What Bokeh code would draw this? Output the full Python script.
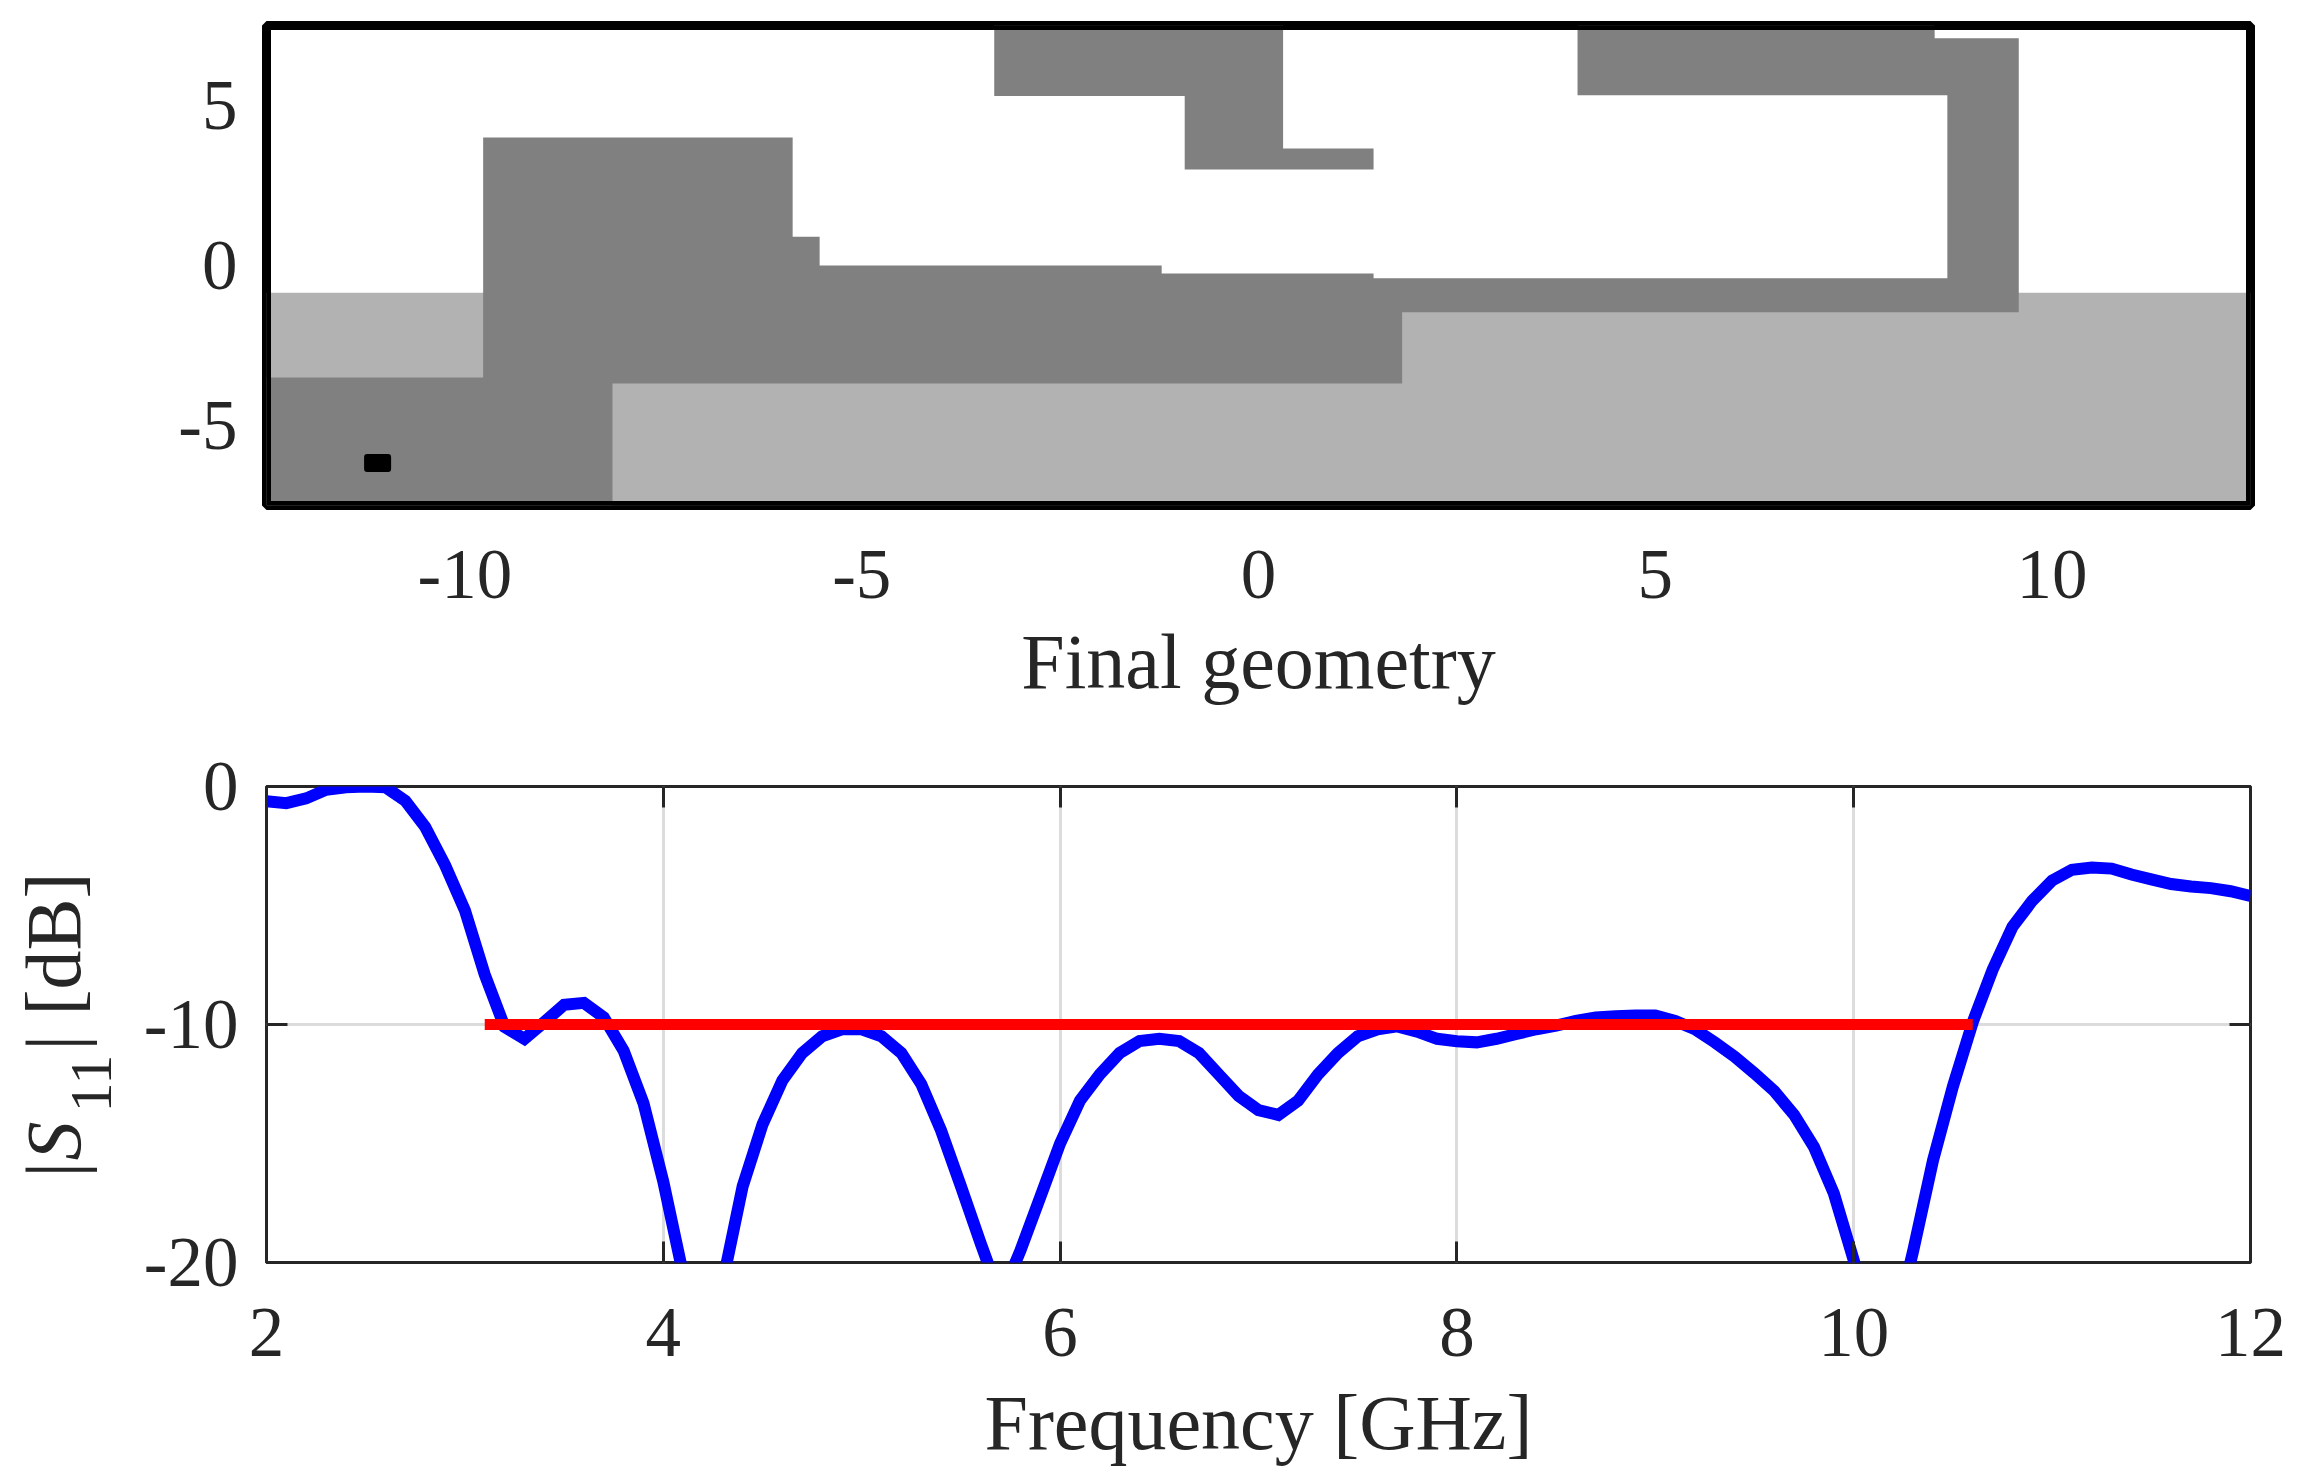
from math import pi
from bokeh.plotting import figure
from bokeh.layouts import column, row
from bokeh.models import LinearAxis, FixedTicker, Range1d
from bokeh.core.properties import value
from bokeh.embed import file_html
from bokeh.resources import INLINE

# ---- geometry panel data
substrate_x = [-12.5, 12.5]
substrate_top = -0.85
substrate_bottom = -7.5
main_patch_x = [-12.5, -9.77, -9.77, -5.87, -5.87, -5.53, -5.53, -1.22, -1.22, 1.45, 1.45, 8.68, 8.68, 4.02, 4.02,
                8.52, 8.52, 9.58, 9.58, 1.81, 1.81, -8.14, -8.14, -12.5]
main_patch_y = [-3.5, -3.5, 4.0, 4.0, 0.9, 0.9, 0.0, 0.0, -0.25, -0.25, -0.4, -0.4, 5.32, 5.32, 7.5,
                7.5, 7.1, 7.1, -1.46, -1.46, -3.69, -3.69, -7.5, -7.5]
stub_patch_x = [-3.33, -3.33, -0.93, -0.93, 1.45, 1.45, 0.31, 0.31]
stub_patch_y = [7.5, 5.3, 5.3, 3.0, 3.0, 3.66, 3.66, 7.5]
feed_x, feed_y = [-11.1], [-6.17]
geom_xticks = [-10, -5, 0, 5, 10]
geom_yticks = [-5, 0, 5]

# ---- S11 panel data
freq = [2.0, 2.1, 2.2, 2.3, 2.4, 2.5, 2.6, 2.7, 2.8, 2.9, 3.0, 3.1, 3.2, 3.3, 3.4, 3.5, 3.6, 3.7, 3.8, 3.9,
        4.0, 4.1, 4.2, 4.3, 4.4, 4.5, 4.6, 4.7, 4.8, 4.9, 5.0, 5.1, 5.2, 5.3, 5.4, 5.5, 5.6, 5.7, 5.8, 5.9,
        6.0, 6.1, 6.2, 6.3, 6.4, 6.5, 6.6, 6.7, 6.8, 6.9, 7.0, 7.1, 7.2, 7.3, 7.4, 7.5, 7.6, 7.7, 7.8, 7.9,
        8.0, 8.1, 8.2, 8.3, 8.4, 8.5, 8.6, 8.7, 8.8, 8.9, 9.0, 9.1, 9.2, 9.3, 9.4, 9.5, 9.6, 9.7, 9.8, 9.9,
        10.0, 10.1, 10.2, 10.3, 10.4, 10.5, 10.6, 10.7, 10.8, 10.9, 11.0, 11.1, 11.2, 11.3, 11.4, 11.5, 11.6,
        11.7, 11.8, 11.9, 12.0]
s11 = [-0.62, -0.7, -0.5, -0.14, -0.03, 0.0, -0.03, -0.6, -1.7, -3.3, -5.2, -7.9, -10.1, -10.6, -9.9, -9.17,
       -9.09, -9.7, -11.1, -13.3, -16.6, -20.5, -25.0, -20.8, -16.8, -14.2, -12.35, -11.2, -10.5, -10.2, -10.2,
       -10.5, -11.2, -12.5, -14.45, -16.8, -19.2, -21.5, -19.5, -17.25, -15.0, -13.2, -12.1, -11.2, -10.7, -10.6,
       -10.7, -11.2, -12.1, -13.0, -13.6, -13.8, -13.2, -12.1, -11.2, -10.5, -10.2, -10.08, -10.3, -10.6, -10.7,
       -10.75, -10.6, -10.4, -10.2, -10.05, -9.85, -9.7, -9.65, -9.62, -9.62, -9.85, -10.2, -10.75, -11.35, -12.05,
       -12.8, -13.8, -15.15, -17.1, -19.9, -23.0, -23.0, -19.5, -15.7, -12.6, -9.9, -7.7, -5.9, -4.8, -3.95, -3.5,
       -3.4, -3.45, -3.7, -3.9, -4.1, -4.2, -4.27, -4.4, -4.6]
spec_x = [3.1, 10.6]
spec_y = [-10, -10]
s11_xticks = [2, 4, 6, 8, 10, 12]
s11_yticks = [-20, -10, 0]

FONT = "Liberation Serif"
INK = "#262626"
TICK_PX = "71px"
LABEL_PX = "78px"
GUTTER = 130


def style_axis(ax, ticks, standoff):
    ax.ticker = FixedTicker(ticks=ticks)
    ax.major_label_overrides = {t: str(t) for t in ticks}
    ax.major_label_text_font = FONT
    ax.major_label_text_font_size = TICK_PX
    ax.major_label_text_color = INK
    ax.major_label_standoff = standoff
    ax.minor_tick_line_color = None


# ---- top panel
p1 = figure(width=2294, height=687, frame_width=1984, frame_height=480,
            x_range=Range1d(-12.5, 12.5), y_range=Range1d(-7.5, 7.5),
            min_border_left=266, min_border_right=44, min_border_top=25, min_border_bottom=182,
            output_backend="svg", toolbar_location=None, background_fill_color="white",
            border_fill_color="white")
p1.grid.visible = False
p1.outline_line_color = "black"
p1.outline_line_width = 9
p1.quad(left=[substrate_x[0]], right=[substrate_x[1]], top=[substrate_top], bottom=[substrate_bottom],
        fill_color="#b2b2b2", line_color=None)
p1.patch(main_patch_x, main_patch_y, fill_color="#808080", line_color=None)
p1.patch(stub_patch_x, stub_patch_y, fill_color="#808080", line_color=None)
p1.rect(x=feed_x, y=feed_y, width=0.265, height=0.375, fill_color="black", line_color="black",
        line_width=6, line_join="round")
# inner half of the heavy frame, above the patches
p1.quad(left=[substrate_x[0]], right=[substrate_x[1]], top=[p1.y_range.end], bottom=[p1.y_range.start],
        fill_color=None, line_color="black", line_width=9)
for ax, ticks, so in ((p1.xaxis[0], geom_xticks, 39), (p1.yaxis[0], geom_yticks, 23)):
    style_axis(ax, ticks, so)
    ax.axis_line_color = None
    ax.major_tick_line_color = None
p1.xaxis[0].axis_label = "Final geometry"
p1.xaxis[0].axis_label_text_font = FONT
p1.xaxis[0].axis_label_text_font_style = "normal"
p1.xaxis[0].axis_label_text_font_size = LABEL_PX
p1.xaxis[0].axis_label_text_color = INK
p1.xaxis[0].axis_label_standoff = 17

# ---- bottom panel
P2_H = 726
p2 = figure(width=2294 - GUTTER, height=P2_H, frame_width=1984, frame_height=476,
            x_range=Range1d(2, 12), y_range=Range1d(-20, 0),
            min_border_left=266 - GUTTER, min_border_right=44, min_border_top=79, min_border_bottom=170,
            output_backend="svg", toolbar_location=None, background_fill_color="white",
            border_fill_color="white")
p2.outline_line_color = INK
p2.outline_line_width = 3
p2.xgrid.ticker = FixedTicker(ticks=s11_xticks)
p2.ygrid.ticker = FixedTicker(ticks=s11_yticks)
for g in (p2.xgrid[0], p2.ygrid[0]):
    g.grid_line_color = "#dcdcdc"
    g.grid_line_width = 3
for ax, ticks, so in ((p2.xaxis[0], s11_xticks, 46), (p2.yaxis[0], s11_yticks, 28)):
    style_axis(ax, ticks, so)
    ax.axis_line_color = None
    ax.major_tick_line_color = INK
    ax.major_tick_line_width = 3
    ax.major_tick_in = 21
    ax.major_tick_out = 0
p2.xaxis[0].axis_label = "Frequency [GHz]"
p2.xaxis[0].axis_label_text_font = FONT
p2.xaxis[0].axis_label_text_font_style = "normal"
p2.xaxis[0].axis_label_text_font_size = LABEL_PX
p2.xaxis[0].axis_label_text_color = INK
p2.xaxis[0].axis_label_standoff = 20

for ticks, side in ((s11_xticks, "above"), (s11_yticks, "right")):
    extra = LinearAxis(ticker=FixedTicker(ticks=ticks), major_label_text_font_size="0px",
                       major_label_text_color=None, axis_line_color=None, major_tick_line_color=INK,
                       major_tick_line_width=3, major_tick_in=21, major_tick_out=0,
                       minor_tick_line_color=None, major_label_standoff=0)
    p2.add_layout(extra, side)

p2.line(freq, s11, line_color="#0000ff", line_width=12, line_join="miter")
p2.line(spec_x, spec_y, line_color="#ff0000", line_width=11, line_cap="butt")

# rotated y label, built from pieces in a narrow strip left of the panel
ylab = figure(width=GUTTER, height=P2_H, frame_width=GUTTER, frame_height=P2_H,
              x_range=Range1d(0, GUTTER), y_range=Range1d(687 + P2_H, 687),
              min_border_left=0, min_border_right=0, min_border_top=0, min_border_bottom=0,
              x_axis_location=None, y_axis_location=None, output_backend="svg",
              toolbar_location=None, outline_line_color=None, background_fill_color="white",
              border_fill_color="white")
ylab.grid.visible = False
for txt, sx, sy, size, style in (("|", 53, 1078, LABEL_PX, "normal"),
                                 ("S", 53, 1061, LABEL_PX, "italic"),
                                 ("11", 91, 1013, "60px", "normal"),
                                 ("| [dB]", 53, 951, LABEL_PX, "normal")):
    ylab.text(x=[sx], y=[sy], text=[txt], angle=pi / 2, text_font=value(FONT),
              text_font_size=value(size), text_font_style=value(style), text_color=INK,
              text_align="left", text_baseline="alphabetic")

layout = column(p1, row(ylab, p2, spacing=0), spacing=0)
open("out.html", "w").write(file_html(layout, INLINE))
